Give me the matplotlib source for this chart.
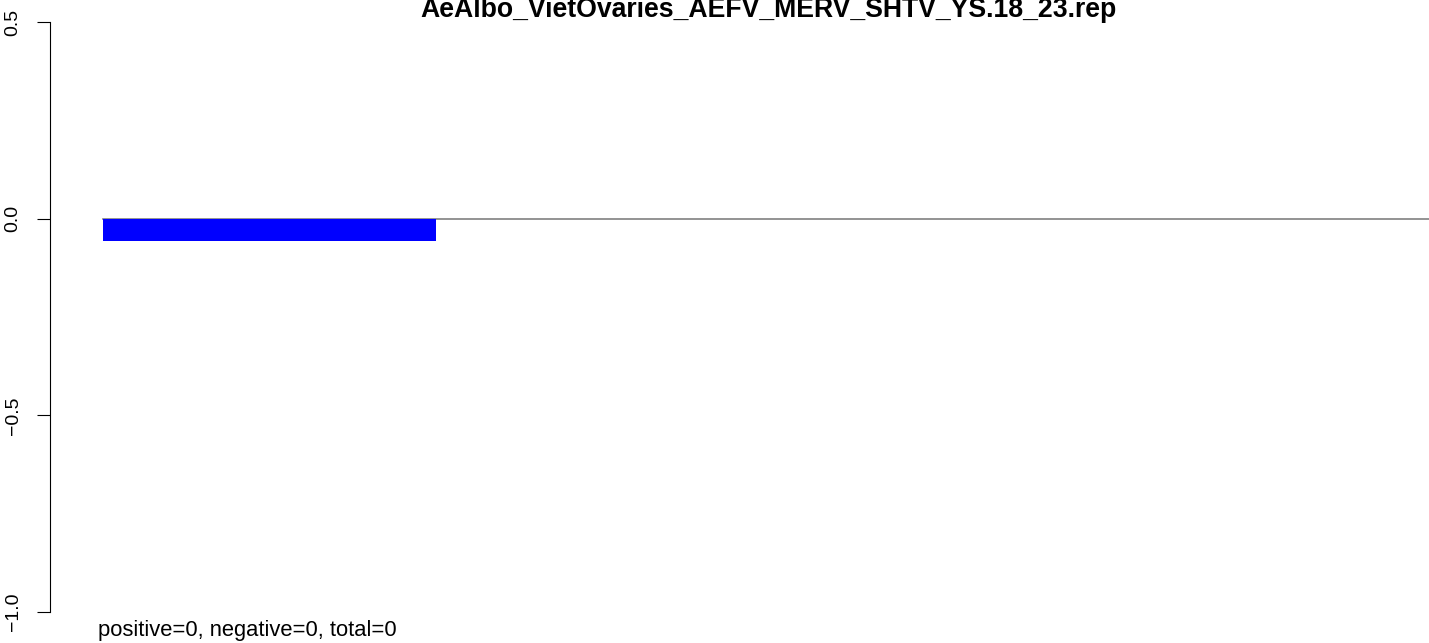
import matplotlib
matplotlib.use("Agg")
import matplotlib.pyplot as plt

# data
title = "AeAlbo_VietOvaries_AEFV_MERV_SHTV_YS.18_23.rep"
bar_left = [0.2]
bar_values = [-0.056]
bar_width = 1.0
yticks = [-1.0, -0.5, 0.0, 0.5]
ytick_labels = ["\u22121.0", "\u22120.5", "0.0", "0.5"]
summary = "positive=0, negative=0, total=0"

plt.rcParams["font.family"] = ["Liberation Sans", "DejaVu Sans"]

W, H = 1429, 643
fig = plt.figure(figsize=(W / 100, H / 100), dpi=100)

# plot region in pixels of the reference
left_px, right_px, top_px, bottom_px = 50, 1429, 22, 612
ax = fig.add_axes([left_px / W, 1 - bottom_px / H,
                   (right_px - left_px) / W, (bottom_px - top_px) / H])

ax.bar(bar_left, bar_values, width=bar_width, align="edge", color="blue")
ax.set_xlim(0.04, 4.18)
ax.set_ylim(-1.0, 0.5)

# zero line from the bar to the right edge
ax.plot([bar_left[0], 4.18], [0, 0], color="gray", lw=1.2, zorder=0)

for s in ["top", "right", "bottom"]:
    ax.spines[s].set_visible(False)
ax.spines["left"].set_linewidth(0.8)
ax.set_xticks([])
ax.set_yticks(yticks)
ax.set_yticklabels(ytick_labels, rotation=90, va="center", fontsize=14)
ax.tick_params(axis="y", length=9.5, width=0.8, pad=11)

fig.text(768 / W, 1 - 17 / H, title, ha="center", va="baseline",
         fontsize=19.2, fontweight="bold")
fig.text(98 / W, 1 - 636 / H, summary, ha="left", va="baseline", fontsize=15.8)

fig.savefig("out.png", dpi=100)
